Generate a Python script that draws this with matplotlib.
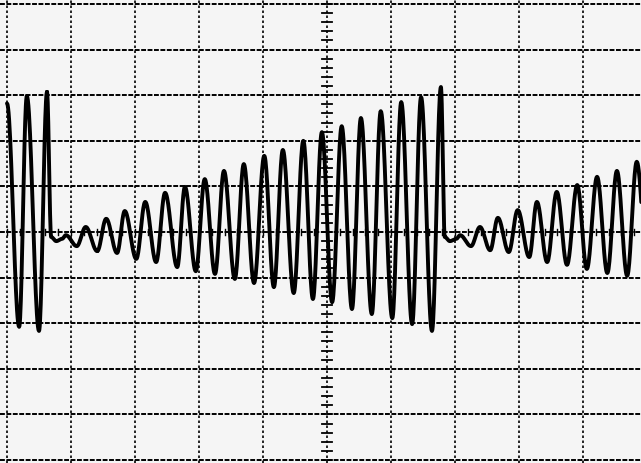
import numpy as np
import matplotlib.pyplot as plt

# trace turning points (divisions, centre = 0)
peak_x = [0.00, 0.31, 0.625, 0.92, 1.23, 1.55, 1.84, 2.16, 2.47, 2.78, 3.09, 3.39, 3.70,
          4.02, 4.31, 4.63, 4.92, 5.23, 5.53, 5.84, 6.16, 6.47, 6.78,
          7.08, 7.39, 7.67, 7.98, 8.28, 8.59, 8.91, 9.22, 9.53, 9.84]
peak_y = [2.82, 2.98, 3.07, -0.07, 0.11, 0.29, 0.46, 0.66, 0.86, 0.99, 1.16, 1.34, 1.49,
          1.67, 1.80, 2.00, 2.19, 2.32, 2.50, 2.65, 2.85, 2.96, 3.18,
          -0.07, 0.11, 0.31, 0.48, 0.66, 0.88, 1.03, 1.21, 1.34, 1.54]
trough_x = [0.19, 0.50, 0.69, 1.09, 1.41, 1.72, 2.02, 2.33, 2.66, 2.95, 3.25, 3.56, 3.86,
            4.17, 4.48, 4.78, 5.08, 5.39, 5.70, 6.02, 6.33, 6.64, 6.84,
            7.25, 7.55, 7.84, 8.16, 8.44, 8.75, 9.06, 9.38, 9.69, 10.02]
trough_y = [-2.08, -2.17, -0.11, -0.31, -0.42, -0.46, -0.59, -0.66, -0.77, -0.86, -0.92, -1.03, -1.12,
            -1.21, -1.34, -1.47, -1.54, -1.69, -1.80, -1.89, -2.02, -2.17, -0.11,
            -0.31, -0.40, -0.44, -0.55, -0.66, -0.72, -0.81, -0.90, -0.96, -1.12]
# flat bit right after each sweep reset
flat_x = [0.77, 0.86, 6.92, 7.02]
flat_y = [-0.20, -0.15, -0.20, -0.15]

pts = sorted(zip(peak_x + trough_x + flat_x, peak_y + trough_y + flat_y))
px = np.array([p[0] for p in pts])
py = np.array([p[1] for p in pts])

# join turning points with half-cosine segments
xs, ys = [], []
t = np.linspace(0, 1, 24)
for i in range(len(px) - 1):
    xs.append(px[i] + t * (px[i + 1] - px[i]))
    ys.append(py[i] + (py[i + 1] - py[i]) * (1 - np.cos(np.pi * t)) / 2)
xs = np.concatenate(xs)
ys = np.concatenate(ys)

fig = plt.figure(figsize=(6.41, 4.64), dpi=100, facecolor="#f5f5f5")
ax = fig.add_axes([0, 0, 1, 1])
ax.set_xlim(-7 / 64, 634 / 64)
ax.set_ylim(-231 / 45.6, 233 / 45.6)
ax.axis("off")

# graticule
for gy in range(-5, 6):
    ax.axhline(gy, color="black", lw=1.4, ls=(0, (2.5, 0.8)), zorder=1)
for gx in range(0, 11):
    ax.axvline(gx, color="black", lw=1.2, ls=(0, (1.5, 1.5)), zorder=1)

# minor ticks on centre lines
for v in np.arange(-5, 5.01, 0.2):
    ax.plot([4.92, 5.08], [v, v], color="black", lw=1.3, zorder=1)
for h in np.arange(0, 10.01, 0.2):
    ax.plot([h, h], [-0.06, 0.06], color="black", lw=1.0, zorder=1)

ax.plot(xs, ys, color="black", lw=2.8, solid_capstyle="round", zorder=3)

fig.savefig("out.png", dpi=100, facecolor=fig.get_facecolor())
